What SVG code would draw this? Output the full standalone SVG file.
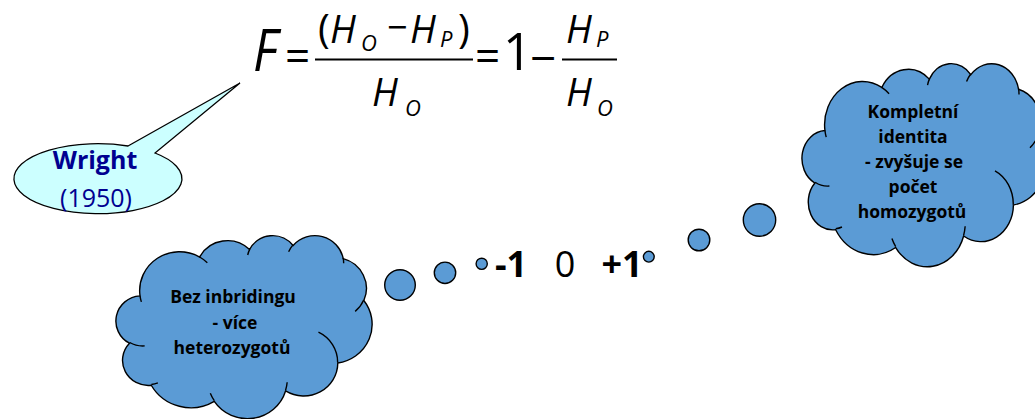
<svg xmlns="http://www.w3.org/2000/svg" xmlns:xlink="http://www.w3.org/1999/xlink" width="1035" height="419" viewBox="0 0 1035 419">
  <style>
    .blue { fill:#5B9BD5; stroke:#000; stroke-width:1.4; }
    .inner { fill:none; stroke:#000; stroke-width:1.4; }
    .ctext { font-family:"Open Sans","Liberation Sans",sans-serif; font-weight:bold; font-size:17.5px; fill:#000; text-anchor:middle; }
    .math { font-family:"Open Sans","Liberation Sans",sans-serif; fill:#000; }
    .it { font-style:italic; }
    .wr { font-family:"Open Sans","Liberation Sans",sans-serif; fill:#000090; text-anchor:middle; }
    .num { font-family:"Open Sans","Liberation Sans",sans-serif; font-size:36px; fill:#000; text-anchor:middle; }
  </style>
  <defs>
    <path id="cloudOuter" vector-effect="non-scaling-stroke" d="M3900 14370 A6753 9190 0 0 1 14006 5203 A5333 7267 0 0 1 22458 3435 A4365 5945 0 0 1 29835 2484 A4857 6595 0 0 1 38319 5581 A5333 7273 0 0 1 41819 15465 A6775 9220 0 0 1 37405 30209 A5785 7867 0 0 1 28557 36819 A6752 9215 0 0 1 16481 39270 A7720 10543 0 0 1 5804 35474 A4360 5918 0 0 1 2114 25551 A4345 5945 0 0 1 3900 14370 Z"/>
    <path id="cloudInner" vector-effect="non-scaling-stroke" d="M4693 26177 A4345 5945 0 0 1 2159 25379 M6928 34899 A4360 5918 0 0 1 5820 35280 M16478 39090 A6752 9215 0 0 1 15810 37351 M28827 34751 A6752 9215 0 0 1 28560 36660 M34129 22954 A5785 7867 0 0 1 37380 30090 M41798 15354 A5333 7273 0 0 1 40350 18030 M38324 5426 A4857 6595 0 0 1 38400 6690 M29078 3952 A4857 6595 0 0 1 29821 2339 M22141 4720 A4365 5945 0 0 1 22501 3329 M14000 5192 A6753 9190 0 0 1 15301 6542 M4127 15789 A6753 9190 0 0 1 3900 14370"/>
  </defs>

  <g id="formula">
    <text class="math it" transform="translate(253,71) scale(0.88,1)" font-size="58">F</text>
    <text class="math" x="285" y="72" font-size="44">=</text>
    <text class="math" x="318" y="43" font-size="40">(</text>
    <text class="math it" x="330" y="43" font-size="38">H</text>
    <text class="math it" x="361" y="51" font-size="22">O</text>
    <text class="math" x="387" y="40" font-size="36">−</text>
    <text class="math it" x="410" y="43" font-size="38">H</text>
    <text class="math it" x="440" y="47" font-size="22">P</text>
    <text class="math" x="458" y="43" font-size="40">)</text>
    <line x1="315" y1="59.5" x2="473" y2="59.5" stroke="#000" stroke-width="2"/>
    <text class="math it" x="372" y="106" font-size="38">H</text>
    <text class="math it" x="405" y="116" font-size="22">O</text>
    <text class="math" x="475" y="72" font-size="44">=</text>
    <text class="math"><tspan x="503" y="70" font-size="51">1</tspan><tspan x="530" y="75" font-size="46">−</tspan></text>
    <text class="math it" x="566" y="43" font-size="38">H</text>
    <text class="math it" x="596" y="47" font-size="22">P</text>
    <line x1="562" y1="59.5" x2="617" y2="59.5" stroke="#000" stroke-width="2"/>
    <text class="math it" x="566" y="106" font-size="38">H</text>
    <text class="math it" x="597" y="116" font-size="22">O</text>
  </g>

  <g id="wright-callout">
    <path d="M128 146 L240 83 L155 153 A84 35 0 1 1 128 146 Z" fill="#CCFFFF" stroke="#000" stroke-width="1.3"/>
    <text class="wr" x="95" y="169" font-size="25" font-weight="bold">Wright</text>
    <text class="wr" x="96" y="207" font-size="25">(1950)</text>
  </g>

  <g id="cloud-left">
    <g transform="translate(117,235) scale(0.0059028,0.0042361)">
      <use xlink:href="#cloudOuter" class="blue"/>
      <use xlink:href="#cloudInner" class="inner"/>
    </g>
    <circle class="blue" cx="400" cy="285" r="15.3"/>
    <circle class="blue" cx="445" cy="272.8" r="10.7"/>
    <circle class="blue" cx="481.7" cy="263.8" r="5.6"/>
    <text class="ctext" x="233" y="303">Bez inbridingu</text>
    <text class="ctext" x="235" y="329">- více</text>
    <text class="ctext" x="232" y="354">heterozygotů</text>
  </g>

  <g id="cloud-right">
    <g transform="translate(803,63) scale(0.005625,0.0046991)">
      <use xlink:href="#cloudOuter" class="blue"/>
      <use xlink:href="#cloudInner" class="inner"/>
    </g>
    <circle class="blue" cx="648.8" cy="256.7" r="5.4"/>
    <circle class="blue" cx="699" cy="240" r="10.8"/>
    <circle class="blue" cx="759.5" cy="220" r="16.2"/>
    <text class="ctext" x="913" y="118">Kompletní</text>
    <text class="ctext" x="913" y="143">identita</text>
    <text class="ctext" x="914" y="168">- zvyšuje se</text>
    <text class="ctext" x="913" y="193">počet</text>
    <text class="ctext" x="912" y="218">homozygotů</text>
  </g>

  <g id="scale">
    <text class="num" x="511" y="277" font-weight="bold">-1</text>
    <text class="num" x="565" y="277">0</text>
    <text class="num" x="622" y="277" font-weight="bold">+1</text>
  </g>
</svg>
